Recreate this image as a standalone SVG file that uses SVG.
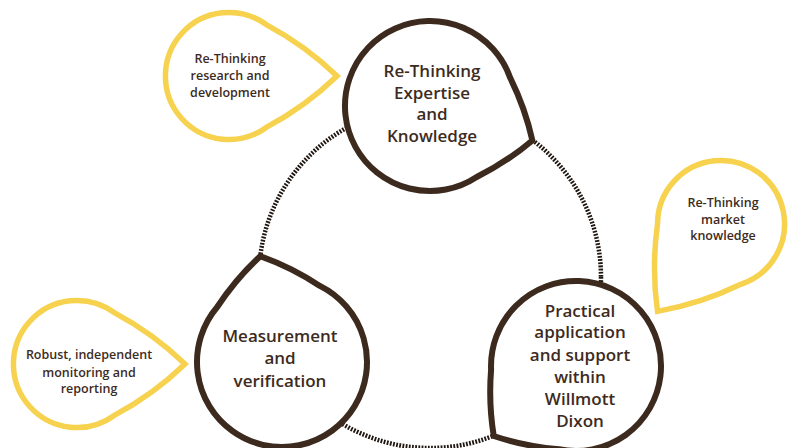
<svg xmlns="http://www.w3.org/2000/svg" width="789" height="448" viewBox="0 0 789 448">
<defs>
<style>
.main{fill:#fff;stroke:#3d2a1e;stroke-width:6;stroke-linejoin:miter;stroke-miterlimit:10}
.side{fill:#fff;stroke:#f6d24e;stroke-width:5.5;stroke-linejoin:miter;stroke-miterlimit:10}
.ring{fill:none;stroke:#1f1610;stroke-width:4.5;stroke-dasharray:1.8 1.4}
text{font-family:"Open Sans","Noto Sans","Liberation Sans",sans-serif;font-weight:600;fill:#3d2b22;text-anchor:middle}
.t1{font-size:17px}
.t2{font-size:12.5px}
</style>
<path id="bigdrop" d="M108,0 Q91,-28.2 66.9,-52.4 A85,85 0 1 0 66.9,52.4 Q91,28.2 108,0 Z"/>
<path id="smalldrop" d="M108,0 Q76.5,-30.5 37.2,-51.4 A63.5,63.5 0 1 0 37.2,51.4 Q76.5,30.5 108,0 Z"/>
</defs>
<rect width="789" height="448" fill="#fff"/>
<g id="connectors">
<circle class="ring" cx="430" cy="277" r="171"/>
</g>
<g id="node-research">
<use href="#smalldrop" class="side" transform="translate(229,76)"/>
<text class="t2" x="230" y="63">Re-Thinking</text>
<text class="t2" x="230" y="80">research and</text>
<text class="t2" x="230" y="97">development</text>
</g>
<g id="node-market">
<use href="#smalldrop" class="side" transform="translate(721,224) rotate(126)"/>
<text class="t2" x="723" y="207">Re-Thinking</text>
<text class="t2" x="723" y="224">market</text>
<text class="t2" x="723" y="240">knowledge</text>
</g>
<g id="node-robust">
<use href="#smalldrop" class="side" transform="translate(77,364)"/>
<text class="t2" x="89" y="359">Robust, independent</text>
<text class="t2" x="89" y="377">monitoring and</text>
<text class="t2" x="89" y="393">reporting</text>
</g>
<g id="node-expertise">
<use href="#bigdrop" class="main" transform="translate(430,106) rotate(18.6)"/>
<text class="t1" x="432" y="77">Re-Thinking</text>
<text class="t1" x="432" y="99">Expertise</text>
<text class="t1" x="432" y="120">and</text>
<text class="t1" x="432" y="142">Knowledge</text>
</g>
<g id="node-practical">
<use href="#bigdrop" class="main" transform="translate(576,366) rotate(139.6)"/>
<text class="t1" x="580" y="317">Practical</text>
<text class="t1" x="580" y="338">application</text>
<text class="t1" x="580" y="361">and support</text>
<text class="t1" x="580" y="383">within</text>
<text class="t1" x="580" y="405">Willmott</text>
<text class="t1" x="580" y="427">Dixon</text>
</g>
<g id="node-measurement">
<use href="#bigdrop" class="main" transform="translate(282,362) rotate(258.4)"/>
<text class="t1" x="280" y="342">Measurement</text>
<text class="t1" x="280" y="364">and</text>
<text class="t1" x="280" y="387">verification</text>
</g>
</svg>
